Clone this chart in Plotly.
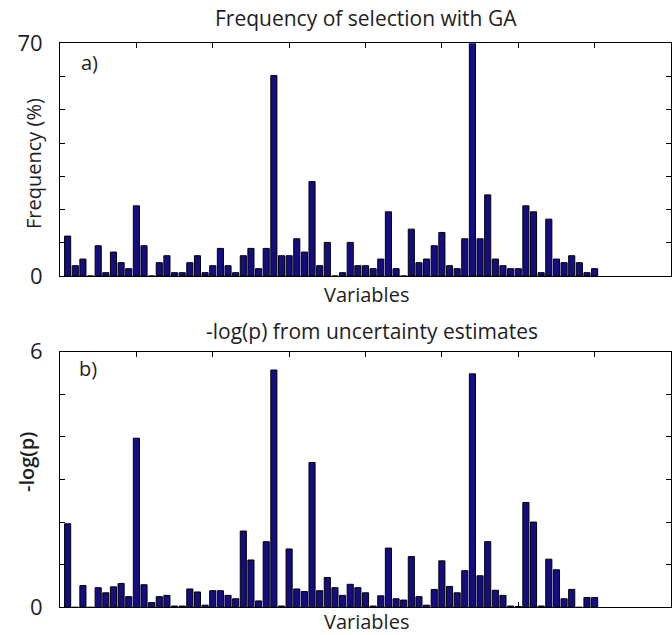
import plotly.graph_objects as go

variables = list(range(1, 71))

freq = [12, 3.1, 5.1, 0, 9.1, 1, 7.2, 4, 2.2, 21.1,
        9.1, 0, 4, 6.1, 1, 1, 4, 6.1, 1, 3.1,
        8.3, 3.1, 1, 6.1, 8.3, 2.2, 8.3, 60.3, 6.1, 6.1,
        11.2, 7.2, 28.4, 3.1, 10.1, 0, 1, 10.1, 3.1, 3.1,
        2.2, 5.1, 19.3, 2.2, 0, 14.1, 4, 5.1, 9.1, 13.1,
        3.1, 2.2, 11.2, 75, 11.2, 24.4, 5.1, 3.1, 2.2, 2.2,
        21.1, 19.3, 1, 17.1, 5.1, 4, 6.1, 4, 1, 2.2]

neglogp = [1.96, 0, 0.51, 0, 0.46, 0.34, 0.48, 0.56, 0.25, 3.97,
           0.53, 0.11, 0.25, 0.28, 0.03, 0.03, 0.43, 0.36, 0.05, 0.39,
           0.39, 0.28, 0.2, 1.79, 1.11, 0.15, 1.54, 5.57, 0.03, 1.37,
           0.43, 0.37, 3.40, 0.39, 0.70, 0.46, 0.28, 0.54, 0.46, 0.34,
           0.03, 0.27, 1.39, 0.20, 0.17, 1.19, 0.25, 0.05, 0.42, 1.09,
           0.49, 0.34, 0.86, 5.48, 0.74, 1.54, 0.40, 0.28, 0.03, 0.02,
           2.46, 2.0, 0.03, 1.13, 0.88, 0.20, 0.42, 0, 0.23, 0.23]

freq_ticks = [0, 10, 20, 30, 40, 50, 60, 70]
freq_ticktext = ["0", "", "", "", "", "", "", "70"]
p_ticks = [0, 1, 2, 3, 4, 5, 6]
p_ticktext = ["0", "", "", "", "", "", "6"]
x_ticks = [10, 20, 30, 40, 50, 60, 70]

W, H = 672, 635
BAR = "rgb(22,12,130)"
FONT = "Open Sans"
TXT = "#1e1e1e"

fig = go.Figure()
fig.add_trace(go.Bar(x=variables, y=freq, marker=dict(color=BAR, line=dict(color="black", width=1)),
                     xaxis="x", yaxis="y", showlegend=False))
fig.add_trace(go.Bar(x=variables, y=neglogp, marker=dict(color=BAR, line=dict(color="black", width=1)),
                     xaxis="x2", yaxis="y2", showlegend=False))

def py(p):
    return 1 - p / H

axis_common = dict(showline=True, linecolor="black", linewidth=1, mirror="ticks", ticks="inside",
                   ticklen=5, tickcolor="black", showgrid=False, zeroline=False, layer="below traces",
                   automargin=False)

fig.update_layout(
    width=W, height=H, margin=dict(l=60, r=1, t=0, b=0, autoexpand=False),
    paper_bgcolor="white", plot_bgcolor="white",
    bargap=0.2,
    font=dict(family=FONT, size=20, color=TXT),
    xaxis=dict(domain=[0, 1], range=[0, 80], tickvals=x_ticks, showticklabels=False, anchor="y", **axis_common),
    yaxis=dict(domain=[py(276), py(43.3)], range=[0, 70], tickvals=freq_ticks, ticktext=freq_ticktext,
               anchor="x", tickfont=dict(size=22), ticklabelstandoff=12, **axis_common),
    xaxis2=dict(domain=[0, 1], range=[0, 80], tickvals=x_ticks, showticklabels=False, anchor="y2", **axis_common),
    yaxis2=dict(domain=[py(607.3), py(351.7)], range=[0, 6], tickvals=p_ticks, ticktext=p_ticktext,
                anchor="x2", tickfont=dict(size=22), ticklabelstandoff=12, **axis_common),
)

def ann_px(text, xpx, ypx, size=20, angle=0, weight="normal"):
    fig.add_annotation(text=text, x=(xpx - 60) / (W - 61), y=(H - ypx) / H, xref="paper", yref="paper",
                       showarrow=False, xanchor="center", yanchor="middle",
                       font=dict(size=size, family=FONT, color=TXT, weight=weight), textangle=angle)

ann_px("Frequency of selection with GA", 366, 18, 21)
ann_px("Variables", 366, 295, 20)
ann_px("Frequency (%)", 33, 164, 20, -90)
ann_px("a)", 89, 63, 20)
ann_px("-log(p) from uncertainty estimates", 372, 331, 21)
ann_px("Variables", 366, 621, 20)
ann_px("-log(p)", 26, 462, 20, -90, 600)
ann_px("b)", 88, 368, 20)

fig.write_html("out.html")
